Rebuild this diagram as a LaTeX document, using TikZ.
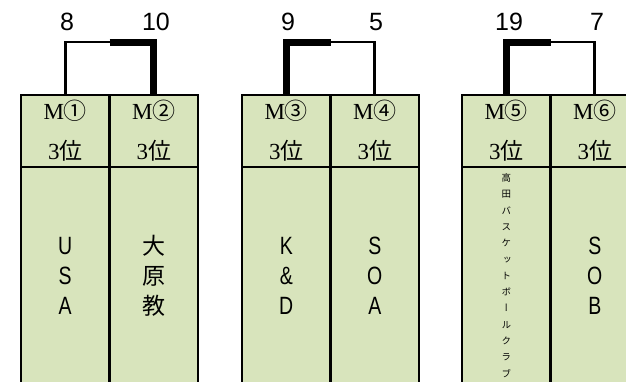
\documentclass[tikz,border=0pt]{standalone}
\usepackage{fontspec}
\setmainfont{Liberation Serif}
\newfontfamily\gothic{Liberation Sans}
\newfontfamily\gothicn[FakeStretch=0.78]{Liberation Sans}
\newfontfamily\jp{Noto Sans CJK JP}
\newfontfamily\jpv[RawFeature=+vert]{Noto Sans CJK JP}
\usetikzlibrary{positioning}
\definecolor{cellgreen}{HTML}{D8E4BC}

\begin{document}
\begin{tikzpicture}[x=1pt,y=-1pt]
  \tikzset{
    node distance=0pt,
    head/.style={draw,fill=cellgreen,line width=2.7pt,inner sep=0pt,outer sep=0pt,
      minimum width=88.5pt,minimum height=72pt,align=center,
      font=\fontsize{23}{40}\selectfont},
    body/.style={head,minimum height=217pt,font=\gothicn\fontsize{25}{30}\selectfont},
    score/.style={font=\gothic\fontsize{25}{25}\selectfont,inner sep=0pt},
    loser/.style={line width=2.7pt},
    winner/.style={line width=7pt}
  }
  \useasboundingbox (0,0) rectangle (626,381);
  \clip (0,0) rectangle (626,381);

  % M1 - M2
  \node[head] (h1) at (65.25,131) {M{\jp ①}\\3{\jp 位}};
  \node[head,right=of h1] (h2) {M{\jp ②}\\3{\jp 位}};
  \node[body,below=of h1] (b1) {U\\S\\A};
  \node[body,below=of h2,font=\jp\fontsize{23}{30}\selectfont] (b2) {大\\原\\教};

  % M3 - M4
  \node[head] (h3) at (286.25,131) {M{\jp ③}\\3{\jp 位}};
  \node[head,right=of h3] (h4) {M{\jp ④}\\3{\jp 位}};
  \node[body,below=of h3] (b3) {K\\\&\\D};
  \node[body,below=of h4] (b4) {S\\O\\A};

  % M5 - M6
  \node[head] (h5) at (506.25,131) {M{\jp ⑤}\\3{\jp 位}};
  \node[head,right=of h5] (h6) {M{\jp ⑥}\\3{\jp 位}};
  \node[body,below=of h5,font=\jpv\fontsize{9.5}{16.3}\selectfont] (b5)
    {高\\田\\バ\\ス\\ケ\\ッ\\ト\\ボ\\ー\\ル\\ク\\ラ\\ブ};
  \node[body,below=of h6] (b6) {S\\O\\B};

  % brackets
  \coordinate (j1) at (109.5,42);
  \coordinate (j2) at (330.5,42);
  \coordinate (j3) at (550.5,42);
  \draw[loser] (h1.north) |- (j1);
  \draw[winner] (j1) -| (h2.north);
  \draw[winner] (h3.north) |- (j2);
  \draw[loser] (j2) -| (h4.north);
  \draw[winner] (h5.north) |- (j3);
  \draw[loser] (j3) -| (h6.north);

  % scores
  \node[score] (s1) at (67,22) {8};
  \node[score] (s2) at (156,22) {10};
  \node[score] (s3) at (288,22) {9};
  \node[score] (s4) at (376,22) {5};
  \node[score] (s5) at (509,22) {19};
  \node[score] (s6) at (597,22) {7};
\end{tikzpicture}
\end{document}
